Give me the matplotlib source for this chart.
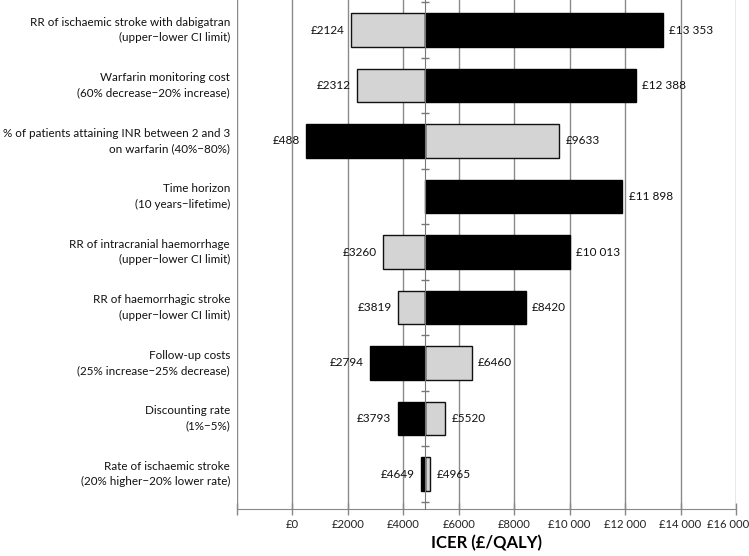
import matplotlib
matplotlib.use("Agg")
import matplotlib.pyplot as plt
import matplotlib.transforms as mtransforms

plt.rcParams['font.family'] = ['Lato', 'DejaVu Sans']

categories = [
    "RR of ischaemic stroke with dabigatran\n(upper\u2212lower CI limit)",
    "Warfarin monitoring cost\n(60% decrease\u221220% increase)",
    "% of patients attaining INR between 2 and 3\non warfarin (40%\u221280%)",
    "Time horizon\n(10 years\u2212lifetime)",
    "RR of intracranial haemorrhage\n(upper\u2212lower CI limit)",
    "RR of haemorrhagic stroke\n(upper\u2212lower CI limit)",
    "Follow-up costs\n(25% increase\u221225% decrease)",
    "Discounting rate\n(1%\u22125%)",
    "Rate of ischaemic stroke\n(20% higher\u221220% lower rate)",
]
base_icer = 4785
grey_values = [2124, 2312, 9633, None, 3260, 3819, 6460, 5520, 4965]
black_values = [13353, 12388, 488, 11898, 10013, 8420, 2794, 3793, 4649]
x_ticks = [-2000, 0, 2000, 4000, 6000, 8000, 10000, 12000, 14000, 16000]
x_tick_labels = ["", "£0", "£2000", "£4000", "£6000", "£8000",
                 "£10 000", "£12 000", "£14 000", "£16 000"]
x_label = "ICER (£/QALY)"

FS = 8.5
FS_TICK = 8.1
FS_CAT = 8.35


def fmt(v):
    s = f"{v:d}"
    if v >= 10000:
        s = s[:-3] + " " + s[-3:]
    return "£" + s


fig = plt.figure(figsize=(7.49, 5.56), dpi=100)
ax = fig.add_axes([237 / 749, 47 / 556, (736 - 237) / 749, 509 / 556])

n = len(categories)
ys = [n - 1 - i for i in range(n)]
bar_h = 0.61

for y, g, b in zip(ys, grey_values, black_values):
    vals = []
    if g is not None:
        ax.barh(y, g - base_icer, left=base_icer, height=bar_h,
                color="#d4d4d4", edgecolor="#111111", linewidth=1.0, zorder=3)
        vals.append(g)
    ax.barh(y, b - base_icer, left=base_icer, height=bar_h,
            color="#000000", edgecolor="#000000", linewidth=1.0, zorder=3)
    vals.append(b)
    for v in vals:
        if v < base_icer:
            ax.annotate(fmt(v), (v, y), xytext=(-4.5, 0), textcoords="offset points",
                        ha="right", va="center", fontsize=FS, color="#111111")
        else:
            ax.annotate(fmt(v), (v, y), xytext=(4.5, 0), textcoords="offset points",
                        ha="left", va="center", fontsize=FS, color="#111111")

ax.set_xlim(-2000, 16000)
ax.set_ylim(-35 / 55.5, n - 1 + 30 / 55.5)

ax.set_xticks(x_ticks)
ax.set_xticklabels(x_tick_labels, fontsize=FS_TICK, color="#222222")
ax.tick_params(axis="x", direction="inout", length=8, width=1, color="#888888", pad=3)
ax.xaxis.grid(True, color="#8a8a8a", linewidth=1.0, zorder=0)
ax.set_axisbelow(True)
last = ax.get_xticklabels()[-1]
last.set_transform(last.get_transform() +
                   mtransforms.ScaledTranslation(-8 / 100, 0, fig.dpi_scale_trans))

ax.spines["left"].set_position(("data", base_icer))
ax.spines["left"].set_color("#777777")
ax.spines["left"].set_zorder(4)
ax.set_yticks([y + 0.5 for y in range(-1, n)])
ax.set_yticklabels([])
ax.tick_params(axis="y", direction="inout", length=6, width=1, color="#777777")
ax.spines["right"].set_visible(False)
ax.spines["top"].set_visible(False)
ax.spines["bottom"].set_color("#888888")

trans = mtransforms.blended_transform_factory(ax.transAxes, ax.transData)
for y, c in zip(ys, categories):
    ax.text(-0.014, y, c, transform=trans, ha="right", va="center",
            fontsize=FS_CAT, color="#111111", linespacing=1.45)

ax.set_xlabel(x_label, fontsize=12, fontweight="bold", labelpad=4)

fig.savefig("out.png", dpi=100)
